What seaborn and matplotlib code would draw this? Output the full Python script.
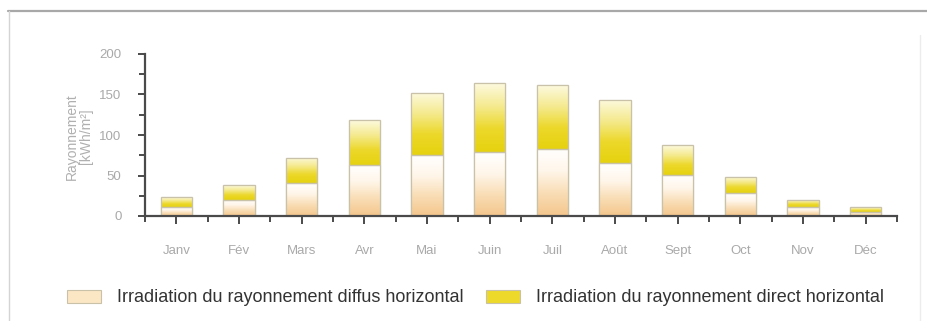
import numpy as np
import pandas as pd
import matplotlib
matplotlib.use("Agg")
import matplotlib.pyplot as plt
from matplotlib.colors import LinearSegmentedColormap
from matplotlib.patches import Patch
from matplotlib.lines import Line2D
from matplotlib.ticker import MultipleLocator
import seaborn as sns

months = ["Janv", "Fév", "Mars", "Avr", "Mai", "Juin",
          "Juil", "Août", "Sept", "Oct", "Nov", "Déc"]
diffus = [11, 20, 41, 63, 75, 79, 83, 65, 51, 28, 11, 5]
direct = [12, 18, 31, 55, 77, 85, 79, 78, 37, 20, 9, 6]
y_ticks = [0, 50, 100, 150, 200]

label_diffus = "Irradiation du rayonnement diffus horizontal"
label_direct = "Irradiation du rayonnement direct horizontal"

df = pd.DataFrame({"mois": months, "diffus": diffus, "direct": direct})
df["total"] = df["diffus"] + df["direct"]

sns.set_theme(style="white")
plt.rcParams["font.family"] = ["Liberation Sans", "DejaVu Sans"]

fig = plt.figure(figsize=(9.27, 3.21), dpi=100)
ax = fig.add_axes([145 / 927, 105 / 321, 752 / 927, 162 / 321])

edge = "#c9c2a8"
sns.barplot(data=df, x="mois", y="total", color="#ecd92a", width=0.5,
            edgecolor=edge, linewidth=0.8, ax=ax)
sns.barplot(data=df, x="mois", y="diffus", color="#fbe7c4", width=0.5,
            edgecolor=edge, linewidth=0.8, ax=ax)

# vertical colour gradients inside each bar segment
cmap_direct = LinearSegmentedColormap.from_list(
    "direct", ["#e6d20e", "#ecd82a", "#f5ea90", "#fdfae0"])
cmap_diffus = LinearSegmentedColormap.from_list(
    "diffus", ["#f4c68c", "#f9ddb5", "#fff6ea", "#ffffff"])
grad = np.linspace(0, 1, 256).reshape(-1, 1)
n = len(months)
for i, patch in enumerate(ax.patches):
    x0, w = patch.get_x(), patch.get_width()
    if i < n:
        y0, y1, cm = diffus[i], diffus[i] + direct[i], cmap_direct
    else:
        y0, y1, cm = 0, diffus[i - n], cmap_diffus
    img = grad * np.ones((1, 64))
    im = ax.imshow(img, extent=[x0, x0 + w, y0, y1], origin="lower",
                   aspect="auto", cmap=cm, vmin=0, vmax=1,
                   zorder=patch.get_zorder() + 0.1, interpolation="bilinear")
    im.set_clip_path(patch)
    outline = plt.Rectangle((x0, y0), w, y1 - y0, fill=False,
                            edgecolor=edge, linewidth=0.9,
                            zorder=patch.get_zorder() + 0.2)
    ax.add_patch(outline)

ax.set_xlim(-0.5, 11.5)
ax.set_ylim(0, 200)
ax.set_yticks(y_ticks)
ax.yaxis.set_minor_locator(MultipleLocator(25))
ax.set_xticks(range(n))
ax.set_xticks(np.arange(-0.5, 12, 1.0), minor=True)
ax.set_xticklabels(months)

for s in ["top", "right"]:
    ax.spines[s].set_visible(False)
for s in ["left", "bottom"]:
    ax.spines[s].set_color("#4a4a4a")
    ax.spines[s].set_linewidth(1.6)

ax.tick_params(axis="both", which="both", direction="out", color="#4a4a4a",
               width=1.4, labelcolor="#a9a9a9", labelsize=9.5)
ax.tick_params(axis="y", which="major", length=5, pad=12, left=True)
ax.tick_params(axis="y", which="minor", length=4, left=True)
ax.tick_params(axis="x", which="major", length=6, pad=15, bottom=True)
ax.tick_params(axis="x", which="minor", length=4, bottom=True)

ax.set_xlabel("")
ax.set_ylabel("Rayonnement\n[kWh/m²]", color="#b0b0b0", fontsize=10,
              linespacing=1.0)
ax.yaxis.set_label_coords(-0.069, 0.49)

handles = [Patch(facecolor="#fbe7c4", edgecolor=edge, linewidth=0.8),
           Patch(facecolor="#ecd92a", edgecolor=edge, linewidth=0.8)]
leg = fig.legend(handles, [label_diffus, label_direct], loc="center",
                 bbox_to_anchor=(0.513, 1 - 298 / 321), ncol=2,
                 frameon=False, fontsize=13, handlelength=1.9,
                 handleheight=0.72, handletextpad=0.9, columnspacing=1.2)
for t in leg.get_texts():
    t.set_color("#333333")

# page frame lines
fig.add_artist(Line2D([8 / 927, 1], [1 - 11 / 321, 1 - 11 / 321],
                      color="#a8a8a8", linewidth=1.6,
                      transform=fig.transFigure))
fig.add_artist(Line2D([9 / 927, 9 / 927], [0, 1 - 11 / 321],
                      color="#d4d4d4", linewidth=1.0,
                      transform=fig.transFigure))
fig.add_artist(Line2D([920 / 927, 920 / 927], [0, 1 - 35 / 321],
                      color="#ececec", linewidth=1.0,
                      transform=fig.transFigure))

fig.savefig("out.png", dpi=100, facecolor="white")
